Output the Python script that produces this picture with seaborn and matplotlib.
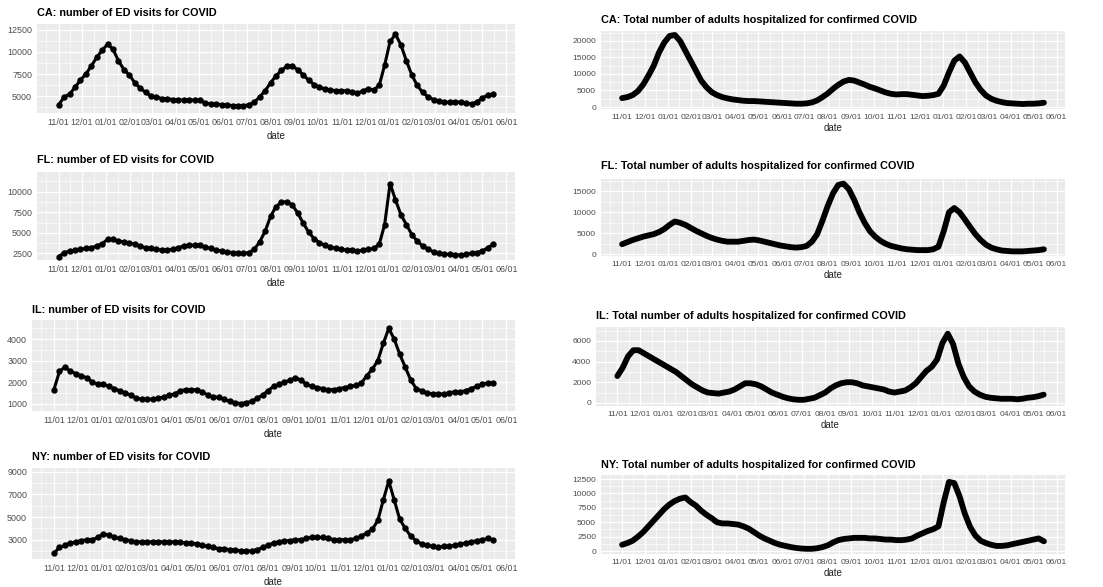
import pandas as pd
import seaborn as sns
import matplotlib.pyplot as plt
import matplotlib.dates as mdates
from matplotlib.ticker import FixedLocator, FuncFormatter

# weekly readings, 2020-11-01 .. 2022-05-15
dates = pd.date_range("2020-11-01", "2022-05-15", freq="7D")

ca_ed = [4000, 4900, 5200, 6000, 6800, 7500, 8400, 9400, 10200, 10900,
         10300, 9000, 8000, 7400, 6500, 5900, 5400, 5000, 4900, 4700,
         4700, 4600, 4600, 4500, 4600, 4500, 4500, 4200, 4100, 4100,
         4000, 4000, 3900, 3900, 3900, 4000, 4300, 4900, 5600, 6500,
         7300, 7900, 8400, 8400, 8000, 7400, 6800, 6300, 6000, 5800,
         5700, 5600, 5600, 5600, 5500, 5300, 5600, 5800, 5700, 6200,
         8500, 11200, 12000, 10800, 9000, 7400, 6200, 5400, 4900, 4600,
         4400, 4300, 4300, 4300, 4300, 4200, 4100, 4300, 4800, 5100, 5200]

fl_ed = [2100, 2600, 2800, 2900, 3000, 3100, 3200, 3400, 3700, 4200,
         4200, 4000, 3900, 3800, 3600, 3400, 3200, 3100, 3000, 2900,
         2900, 3000, 3200, 3400, 3500, 3500, 3500, 3300, 3100, 2900,
         2800, 2700, 2600, 2500, 2500, 2600, 3000, 3900, 5200, 7000,
         8200, 8700, 8800, 8400, 7400, 6200, 5100, 4300, 3800, 3500,
         3300, 3100, 3000, 2900, 2900, 2800, 2900, 3000, 3100, 3600,
         6000, 11000, 9000, 7200, 6000, 4800, 4000, 3400, 3000, 2700,
         2500, 2400, 2400, 2300, 2300, 2400, 2500, 2600, 2800, 3200, 3600]

il_ed = [1650, 2500, 2700, 2500, 2400, 2300, 2200, 2000, 1900, 1900,
         1800, 1700, 1600, 1500, 1400, 1250, 1200, 1200, 1200, 1250,
         1300, 1400, 1450, 1600, 1650, 1650, 1650, 1550, 1400, 1300,
         1300, 1200, 1100, 1050, 1000, 1050, 1100, 1250, 1400, 1600,
         1800, 1900, 2000, 2100, 2200, 2100, 1900, 1800, 1750, 1700,
         1650, 1650, 1700, 1750, 1800, 1850, 1950, 2300, 2600, 3000,
         3800, 4500, 4000, 3300, 2700, 2100, 1700, 1600, 1500, 1450,
         1450, 1450, 1500, 1550, 1550, 1600, 1700, 1800, 1900, 1950, 1950]

ny_ed = [1800, 2300, 2500, 2700, 2800, 2900, 3000, 3000, 3200, 3500,
         3400, 3200, 3100, 3000, 2900, 2800, 2800, 2800, 2800, 2800,
         2800, 2800, 2800, 2800, 2700, 2700, 2600, 2500, 2400, 2300,
         2200, 2200, 2100, 2100, 2000, 2000, 2000, 2100, 2300, 2500,
         2700, 2800, 2900, 2900, 3000, 3000, 3100, 3200, 3200, 3200,
         3100, 3000, 3000, 3000, 3000, 3100, 3300, 3600, 3900, 4700,
         6500, 8200, 6500, 4800, 4000, 3300, 2900, 2600, 2500, 2400,
         2300, 2400, 2400, 2500, 2600, 2700, 2800, 2900, 3000, 3100, 3000]

ca_hosp = [2700, 3000, 3600, 4800, 6800, 9500, 12500, 16500, 19500, 21500,
           21800, 20000, 17000, 14000, 11000, 8000, 6000, 4500, 3600, 3000,
           2600, 2300, 2100, 1900, 1800, 1800, 1700, 1600, 1500, 1400,
           1300, 1200, 1100, 1000, 1000, 1100, 1400, 2000, 3000, 4100,
           5500, 6700, 7700, 8200, 8000, 7400, 6800, 6100, 5600, 5000,
           4400, 4000, 3800, 3900, 3900, 3700, 3500, 3300, 3400, 3600,
           4000, 6500, 10500, 14000, 15300, 13500, 10500, 7500, 5200, 3500,
           2500, 1900, 1500, 1200, 1100, 1000, 900, 1000, 1000, 1100, 1300]

fl_hosp = [2400, 2900, 3400, 3800, 4200, 4500, 4800, 5300, 6000, 7000,
           7800, 7500, 7000, 6300, 5600, 5000, 4400, 3900, 3500, 3200,
           3000, 3000, 3000, 3200, 3400, 3500, 3300, 3000, 2700, 2400,
           2100, 1900, 1700, 1600, 1700, 2000, 3000, 4800, 8000, 11500,
           14500, 16500, 16800, 15500, 13000, 10000, 7500, 5500, 4200, 3200,
           2500, 2000, 1700, 1400, 1200, 1100, 1000, 1000, 1000, 1200,
           1800, 5500, 10000, 11000, 10000, 8300, 6500, 4800, 3400, 2300,
           1600, 1200, 900, 800, 700, 700, 700, 800, 900, 1000, 1200]

il_hosp = [2600, 3400, 4500, 5100, 5100, 4800, 4500, 4200, 3900, 3600,
           3300, 3000, 2600, 2200, 1800, 1500, 1200, 1000, 950, 900,
           1000, 1100, 1300, 1600, 1900, 1900, 1800, 1600, 1300, 1000,
           800, 600, 450, 350, 300, 300, 400, 500, 750, 1000,
           1400, 1700, 1900, 2000, 2000, 1900, 1700, 1600, 1500, 1400,
           1300, 1100, 1000, 1100, 1200, 1500, 1900, 2500, 3100, 3500,
           4200, 5800, 6700, 5700, 3800, 2500, 1600, 1100, 800, 600,
           500, 450, 400, 400, 400, 350, 400, 500, 550, 650, 800]

ny_hosp = [1100, 1400, 1800, 2500, 3300, 4300, 5300, 6300, 7300, 8100,
           8700, 9100, 9300, 8500, 7900, 7000, 6300, 5700, 5000, 4800,
           4800, 4700, 4600, 4300, 3900, 3300, 2700, 2200, 1800, 1400,
           1100, 900, 700, 550, 450, 400, 400, 500, 700, 1000,
           1500, 1900, 2100, 2200, 2300, 2300, 2300, 2200, 2200, 2100,
           2000, 2000, 1900, 1900, 2000, 2200, 2700, 3100, 3500, 3800,
           4300, 8500, 12000, 11800, 9500, 6500, 4200, 2700, 1800, 1400,
           1100, 900, 900, 1000, 1200, 1400, 1600, 1800, 2000, 2200, 1700]

df = pd.DataFrame({"date": dates, "ca_ed": ca_ed, "fl_ed": fl_ed, "il_ed": il_ed,
                   "ny_ed": ny_ed, "ca_hosp": ca_hosp, "fl_hosp": fl_hosp,
                   "il_hosp": il_hosp, "ny_hosp": ny_hosp})

ed_title = "{}: number of ED visits for COVID"
hosp_title = "{}: Total number of adults hospitalized for confirmed COVID"

# column, state, yticks, ylim, panel box in pixels (left, top, right, bottom), title y
panels = [
    ("ca_ed", "CA", [5000, 7500, 10000, 12500], (3070, 13180), (37, 24, 515, 113), 13),
    ("fl_ed", "FL", [2500, 5000, 7500, 10000], (1700, 12400), (37, 172, 515, 260), 160),
    ("il_ed", "IL", [1000, 2000, 3000, 4000], (657, 4893), (32, 320, 515, 411), 310),
    ("ny_ed", "NY", [3000, 5000, 7000, 9000], (1280, 9350), (32, 468, 515, 559), 457),
    ("ca_hosp", "CA", [0, 5000, 10000, 15000, 20000], (-600, 23000), (601, 31, 1065, 109), 20),
    ("fl_hosp", "FL", [0, 5000, 10000, 15000], (-400, 17900), (601, 179, 1065, 256), 166),
    ("il_hosp", "IL", [0, 2000, 4000, 6000], (-300, 7350), (596, 327, 1065, 406), 316),
    ("ny_hosp", "NY", [0, 2500, 5000, 7500, 10000, 12500], (-500, 13200), (601, 475, 1065, 554), 465),
]

sns.set_theme(style="darkgrid", rc={"axes.facecolor": "#EBEBEB", "grid.color": "white"})
plt.rcParams["font.family"] = ["Liberation Sans", "DejaVu Sans"]

W, H = 1103, 587
fig = plt.figure(figsize=(W / 100, H / 100), dpi=100)
fig.patch.set_facecolor("white")

for col, state, yticks, ylim, (l, t, r, b), ty in panels:
    left_col = l < 500
    ax = fig.add_axes([l / W, 1 - b / H, (r - l) / W, (b - t) / H])
    if col.endswith("_ed"):
        sns.lineplot(data=df, x="date", y=col, ax=ax, color="black", lw=2.2,
                     marker="o", markersize=4.6, markeredgewidth=0)
        title = ed_title.format(state)
    else:
        sns.lineplot(data=df, x="date", y=col, ax=ax, color="black", lw=4.2,
                     solid_capstyle="round", solid_joinstyle="round")
        title = hosp_title.format(state)

    ax.set_xlim(pd.Timestamp("2020-10-04"), pd.Timestamp("2022-06-12"))
    ax.set_ylim(*ylim)
    ax.xaxis.set_major_locator(mdates.MonthLocator())
    ax.xaxis.set_minor_locator(mdates.MonthLocator(bymonthday=16))
    ax.xaxis.set_major_formatter(mdates.DateFormatter("%m/%d"))
    ax.yaxis.set_major_locator(FixedLocator(yticks))
    step = yticks[1] - yticks[0]
    ax.yaxis.set_minor_locator(FixedLocator([yticks[0] - step / 2] + [v + step / 2 for v in yticks]))
    ax.yaxis.set_major_formatter(FuncFormatter(lambda v, p: f"{v:.0f}"))

    ax.grid(which="major", color="white", lw=0.9)
    ax.grid(which="minor", color="white", lw=0.45)
    for s in ax.spines.values():
        s.set_visible(False)
    ax.tick_params(which="major", length=2, width=0.6, color="#555555",
                   labelsize=6.4 if left_col else 6.1, labelcolor="#4D4D4D", pad=1.5)
    ax.tick_params(which="minor", length=0)

    ax.set_ylabel("")
    ax.set_xlabel("date", fontsize=7, color="#222222", labelpad=3 if left_col else 1.5)
    fig.text(l / W, 1 - ty / H, title, fontsize=7.8, fontweight="bold",
             ha="left", va="center", color="black")

fig.savefig("out.png", dpi=100)
